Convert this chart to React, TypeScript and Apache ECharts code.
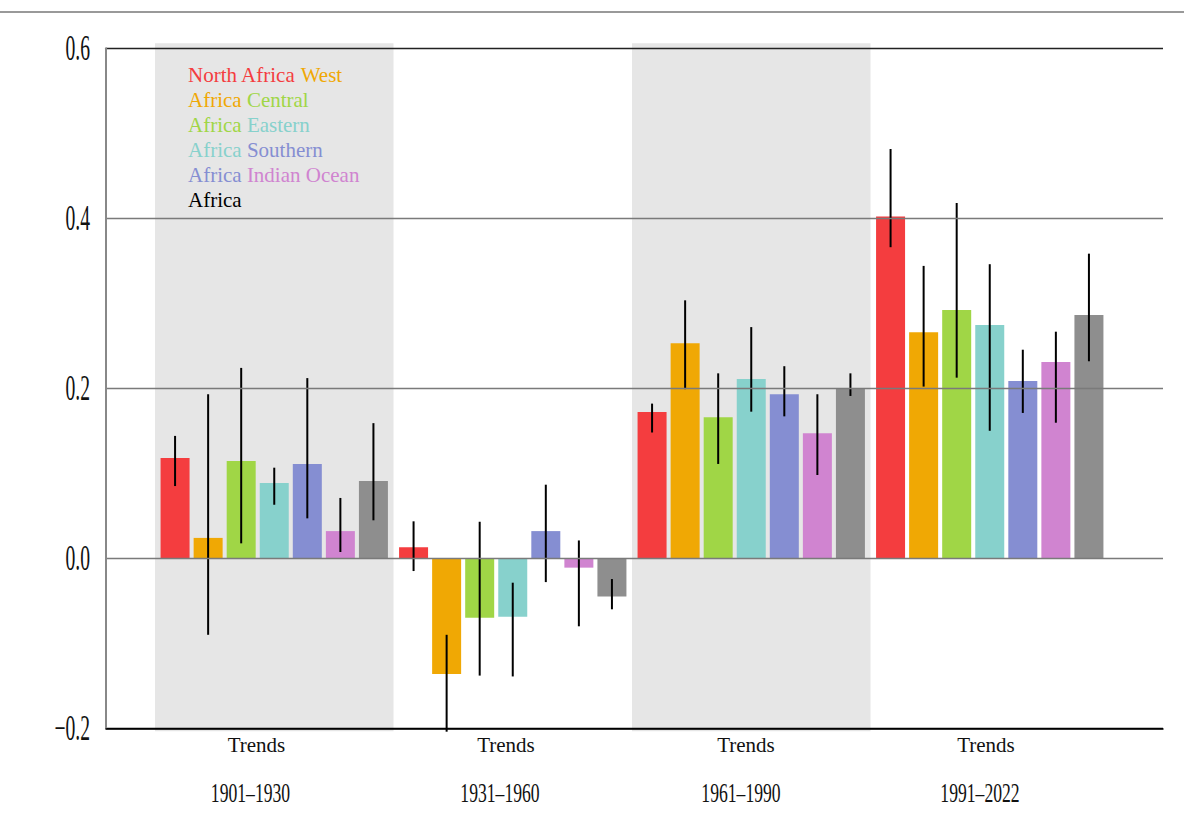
import React, { useEffect, useRef } from "react";
import * as echarts from "echarts";

// ---------- data ----------
const periods = ["1901–1930", "1931–1960", "1961–1990", "1991–2022"];
const regions = [
  "North Africa",
  "West Africa",
  "Central Africa",
  "Eastern Africa",
  "Southern Africa",
  "Indian Ocean Africa",
  "Africa",
];
const colors = ["#f43d3f", "#f0a804", "#a0d646", "#87d1cc", "#858ed2", "#d084d0", "#8e8e8e"];

const northAfrica = [0.118, 0.013, 0.172, 0.402];
const westAfrica = [0.024, -0.136, 0.253, 0.266];
const centralAfrica = [0.1145, -0.07, 0.166, 0.292];
const easternAfrica = [0.0886, -0.0687, 0.211, 0.2745];
const southernAfrica = [0.111, 0.032, 0.193, 0.2086];
const indianOcean = [0.032, -0.011, 0.147, 0.231];
const africa = [0.091, -0.045, 0.1996, 0.2862];

const northAfricaLow = [0.085, -0.015, 0.148, 0.366];
const northAfricaHigh = [0.144, 0.0435, 0.182, 0.4815];
const westAfricaLow = [-0.09, -0.204, 0.199, 0.202];
const westAfricaHigh = [0.193, -0.09, 0.3035, 0.344];
const centralAfricaLow = [0.0176, -0.138, 0.111, 0.2125];
const centralAfricaHigh = [0.224, 0.043, 0.2176, 0.418];
const easternAfricaLow = [0.063, -0.139, 0.1725, 0.15];
const easternAfricaHigh = [0.1066, -0.0287, 0.272, 0.346];
const southernAfricaLow = [0.047, -0.028, 0.167, 0.171];
const southernAfricaHigh = [0.212, 0.0866, 0.226, 0.2454];
const indianOceanLow = [0.0074, -0.08, 0.098, 0.1595];
const indianOceanHigh = [0.071, 0.021, 0.193, 0.2666];
const africaLow = [0.0447, -0.06, 0.191, 0.2318];
const africaHigh = [0.159, -0.0244, 0.2176, 0.3584];

const values = [northAfrica, westAfrica, centralAfrica, easternAfrica, southernAfrica, indianOcean, africa];
const lows = [northAfricaLow, westAfricaLow, centralAfricaLow, easternAfricaLow, southernAfricaLow, indianOceanLow, africaLow];
const highs = [northAfricaHigh, westAfricaHigh, centralAfricaHigh, easternAfricaHigh, southernAfricaHigh, indianOceanHigh, africaHigh];

const yTicks = [-0.2, 0, 0.2, 0.4, 0.6];
const yTickLabels = ["−0.2", "0.0", "0.2", "0.4", "0.6"];
const xTopLabel = "Trends";

// legend text (word colours as in the reference)
const legendLines: [string, number][][] = [
  [["North Africa", 0], [" West", 1]],
  [["Africa", 1], [" Central", 2]],
  [["Africa", 2], [" Eastern", 3]],
  [["Africa", 3], [" Southern", 4]],
  [["Africa", 4], [" Indian Ocean", 5]],
  [["Africa", -1]],
];

// ---------- layout / style ----------
const W = 1184;
const H = 821;
const FONT = '"Liberation Serif", "Times New Roman", serif';
const BAR_W = 29;
const BAR_GAP = 0.14;
const trendShift = [-17.75, -6.75, -5.25, -3.75];
const yearShift = [-23.75, -12.75, -10.25, -9.75];
const shadedPeriods = [0, 2];

export default function App() {
  const ref = useRef<HTMLDivElement>(null);

  useEffect(() => {
    if (!ref.current) return;
    const chart = echarts.init(ref.current, null, { renderer: "svg" });

    const barSeries = regions.map((name, k) => ({
      name,
      type: "bar",
      xAxisIndex: 1,
      yAxisIndex: 1,
      data: values[k],
      barWidth: BAR_W,
      barGap: BAR_GAP * 100 + "%",
      itemStyle: { color: colors[k] },
      z: 2,
    }));

    const errData: number[][] = [];
    regions.forEach((_, k) => {
      periods.forEach((_, c) => {
        errData.push([c, k, lows[k][c], highs[k][c]]);
      });
    });

    const rich: any = {};
    trendShift.forEach((s, i) => {
      rich["t" + i] = {
        fontFamily: FONT,
        fontSize: 21,
        color: "#111",
        padding: [0, -2 * s, 0, 0],
      };
    });

    const option: any = {
      animation: false,
      grid: [
        { left: 106, right: W - 1163, top: 48.3, bottom: H - 728.3 },
        { left: 155, right: W - 1109, top: 48.3, bottom: H - 728.3 },
      ],
      xAxis: [
        {
          type: "value",
          gridIndex: 0,
          min: 0,
          max: 1,
          z: 5,
          axisLine: { show: true, onZero: false, lineStyle: { color: "#000", width: 1.5 } },
          axisTick: { show: false },
          axisLabel: { show: false },
          splitLine: { show: false },
        },
        {
          type: "category",
          gridIndex: 1,
          data: periods,
          axisLine: { show: false },
          axisTick: { show: false },
          axisLabel: {
            margin: 6,
            formatter: (_v: string, i: number) => `{t${i}|${xTopLabel}}`,
            rich,
          },
        },
      ],
      yAxis: [
        {
          type: "value",
          gridIndex: 0,
          min: -0.2,
          max: 0.6,
          interval: 0.2,
          z: 5,
          axisLine: { show: true, onZero: false, lineStyle: { color: "#888", width: 2 } },
          axisTick: { show: false },
          axisLabel: { show: false },
          splitLine: {
            show: true,
            lineStyle: { color: ["#000", "#7a7a7a", "#7a7a7a", "#7a7a7a", "#222"], width: 1.4 },
          },
        },
        {
          type: "value",
          gridIndex: 1,
          min: -0.2,
          max: 0.6,
          interval: 0.2,
          show: false,
          splitLine: { show: false },
        },
      ],
      series: [
        ...barSeries,
        {
          type: "custom",
          xAxisIndex: 1,
          yAxisIndex: 1,
          z: 4,
          data: errData,
          renderItem: (_p: any, api: any) => {
            const c = api.value(0);
            const k = api.value(1);
            const lo = api.coord([c, api.value(2)]);
            const hi = api.coord([c, api.value(3)]);
            const stride = BAR_W * (1 + BAR_GAP);
            const x = lo[0] + (k - (regions.length - 1) / 2) * stride;
            return {
              type: "line",
              shape: { x1: x, y1: lo[1], x2: x, y2: hi[1] },
              style: { stroke: "#000", lineWidth: 2 },
            };
          },
        },
      ],
    };

    chart.setOption(option);

    const px = (i: number) => chart.convertToPixel({ xAxisIndex: 1 }, periods[i]) as number;
    const py = (v: number) => chart.convertToPixel({ yAxisIndex: 0 }, v) as number;
    const band = px(1) - px(0);
    const topY = py(0.6);
    const botY = py(-0.2);

    const graphics: any[] = [];
    graphics.push({
      type: "line",
      z: 10,
      shape: { x1: 0, y1: 12, x2: W, y2: 12 },
      style: { stroke: "#777", lineWidth: 1.5 },
    });
    shadedPeriods.forEach((i) => {
      graphics.push({
        type: "rect",
        z: -10,
        shape: { x: px(i) - band / 2, y: topY - 5, width: band, height: botY - topY + 8 },
        style: { fill: "#e6e6e6" },
      });
    });
    yTicks.forEach((v, i) => {
      graphics.push({
        type: "text",
        x: 90,
        y: py(v),
        scaleX: 0.56,
        z: 10,
        style: {
          text: yTickLabels[i],
          font: `35px ${FONT}`,
          fill: "#111",
          align: "right",
          verticalAlign: "middle",
        },
      });
    });
    periods.forEach((p, i) => {
      graphics.push({
        type: "text",
        x: px(i) + yearShift[i],
        y: 792.7,
        scaleX: 0.63,
        z: 10,
        style: {
          text: p,
          font: `28px ${FONT}`,
          fill: "#111",
          align: "center",
          verticalAlign: "middle",
        },
      });
    });
    const legendRich: any = {};
    colors.forEach((c, k) => {
      legendRich["c" + k] = { fill: c, font: `21px ${FONT}` };
    });
    legendRich.cb = { fill: "#000", font: `21px ${FONT}` };
    legendLines.forEach((line, i) => {
      const text = line
        .map(([s, k]) => `{${k < 0 ? "cb" : "c" + k}|${s}}`)
        .join("");
      graphics.push({
        type: "text",
        x: 188,
        y: 74.7 + i * 25.1,
        z: 10,
        style: {
          text,
          rich: legendRich,
          font: `21px ${FONT}`,
          align: "left",
          verticalAlign: "middle",
        },
      });
    });

    chart.setOption({ graphic: { elements: graphics } });

    return () => chart.dispose();
  }, []);

  return (
    <div
      ref={ref}
      style={{ position: "absolute", left: 0, top: 0, width: W, height: H, background: "#fff" }}
    />
  );
}
